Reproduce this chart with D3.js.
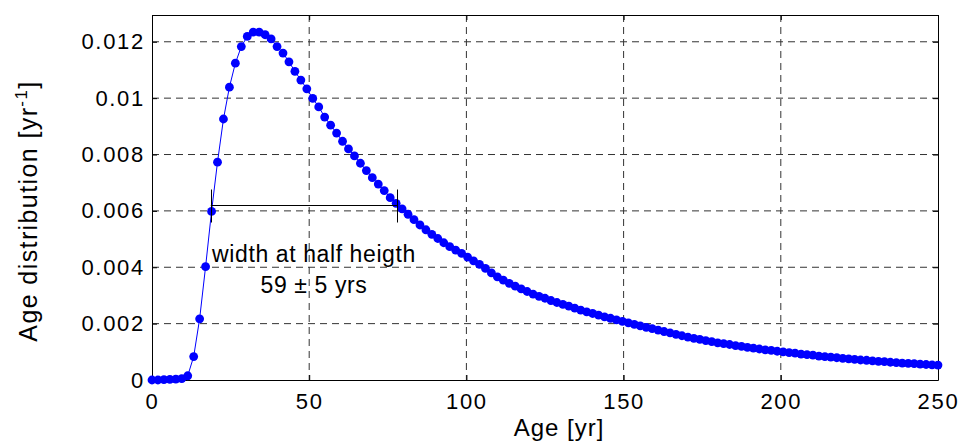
<!DOCTYPE html>
<html>
<head>
<meta charset="utf-8">
<script src="https://cdn.jsdelivr.net/npm/d3@7"></script>
<style>
body { margin: 0; background: #fff; }
text { font-family: "Liberation Sans", Arial, sans-serif; fill: #000; }
</style>
</head>
<body>
<div id="plot"></div>
<script>
// Age distribution values, one dot every 250/132 years from 0 to 250
const ageMax = 250;
const density = [
  0, 0, 0.00001, 0.00002, 0.00003, 0.00005, 0.00015, 0.00083, 0.00217, 0.00402,
  0.00598, 0.00773, 0.00926, 0.01039, 0.01124, 0.01183, 0.01219, 0.01234, 0.01234, 0.01225,
  0.01210, 0.01183, 0.01160, 0.01129, 0.01095, 0.01064, 0.01033, 0.00999, 0.00969, 0.00933,
  0.00904, 0.00876, 0.00847, 0.00820, 0.00795, 0.00769, 0.00743, 0.00718, 0.00695, 0.00672,
  0.00647, 0.00627, 0.00607, 0.00588, 0.00569, 0.00550, 0.00533, 0.00517, 0.00502, 0.00487,
  0.00473, 0.00461, 0.00449, 0.00436, 0.00423, 0.00410, 0.00396, 0.00380, 0.00366, 0.00354,
  0.00343, 0.00333, 0.00323, 0.00314, 0.00305, 0.00297, 0.00290, 0.00282, 0.00275, 0.00268,
  0.00262, 0.00255, 0.00248, 0.00242, 0.00236, 0.00230, 0.00224, 0.00219, 0.00213, 0.00208,
  0.00203, 0.00197, 0.00192, 0.00187, 0.00182, 0.00177, 0.00172, 0.00167, 0.00162, 0.00157,
  0.00152, 0.00148, 0.00144, 0.00140, 0.00136, 0.00132, 0.00129, 0.00126, 0.00122, 0.00119,
  0.00116, 0.00113, 0.00110, 0.00107, 0.00105, 0.00102, 0.00100, 0.00097, 0.00095, 0.00092,
  0.00090, 0.00088, 0.00085, 0.00083, 0.00081, 0.00079, 0.00077, 0.00075, 0.00073, 0.00071,
  0.00070, 0.00068, 0.00066, 0.00065, 0.00063, 0.00062, 0.00060, 0.00059, 0.00058, 0.00056,
  0.00055, 0.00054, 0.00053
];
const ages = density.map((d, i) => i * ageMax / (density.length - 1));

// Ticks
const xTicks = [0, 50, 100, 150, 200, 250];
const yTicks = [0, 0.002, 0.004, 0.006, 0.008, 0.01, 0.012];
const yTickLabels = ["0", "0.002", "0.004", "0.006", "0.008", "0.01", "0.012"];

// Width at half height marker
const halfAges = [18.7, 77.9];
const halfValue = 0.0062;
const noteLines = ["width at half heigth", "59 \u00b1 5 yrs"];

// The SVG dimensions
const W = 962, H = 445;
const margin = {top: 15, right: 24, bottom: 65, left: 152},
  width = W - margin.left - margin.right,
  height = H - margin.top - margin.bottom;

const x = d3.scaleLinear().domain([0, ageMax]).range([0, width]);
const y = d3.scaleLinear().domain([0, 0.01295]).range([height, 0]);

const svg = d3.select("#plot").append("svg")
  .attr("width", W)
  .attr("height", H);

const g = svg.append("g")
  .attr("transform", `translate(${margin.left},${margin.top})`);

// Grid lines (dashed)
g.append("g").selectAll("line")
  .data(xTicks.filter(t => t > 0 && t < ageMax))
  .join("line")
  .attr("x1", d => x(d)).attr("x2", d => x(d))
  .attr("y1", 0).attr("y2", height)
  .attr("stroke", "#333").attr("stroke-dasharray", "7,5");

g.append("g").selectAll("line")
  .data(yTicks.filter(t => t > 0))
  .join("line")
  .attr("x1", 0).attr("x2", width)
  .attr("y1", d => y(d)).attr("y2", d => y(d))
  .attr("stroke", "#333").attr("stroke-dasharray", "7,5");

// Axes, ticks pointing inwards
const xAxis = g.append("g")
  .attr("transform", `translate(0,${height})`)
  .call(d3.axisBottom(x).tickValues(xTicks).tickFormat(d3.format("d"))
    .tickSizeInner(-5).tickSizeOuter(0).tickPadding(13));

const yAxis = g.append("g")
  .call(d3.axisLeft(y).tickValues(yTicks).tickFormat((d, i) => yTickLabels[i])
    .tickSizeInner(-5).tickSizeOuter(0).tickPadding(7));

g.append("g")
  .call(d3.axisTop(x).tickValues(xTicks).tickFormat("").tickSizeInner(-5).tickSizeOuter(0));

g.append("g")
  .attr("transform", `translate(${width},0)`)
  .call(d3.axisRight(y).tickValues(yTicks).tickFormat("").tickSizeInner(-5).tickSizeOuter(0));

g.selectAll(".domain, .tick line").attr("stroke", "#000");
[xAxis, yAxis].forEach(a => a.selectAll("text")
  .style("font-size", "22px")
  .style("letter-spacing", "1.7px")
  .style("font-family", "'Liberation Sans', Arial, sans-serif")
  .attr("fill", "#000"));

// The curve
const line = d3.line()
  .x((d, i) => x(ages[i]))
  .y(d => y(d));

g.append("path")
  .datum(density)
  .attr("fill", "none")
  .attr("stroke", "#0000ff")
  .attr("stroke-width", 1)
  .attr("d", line);

g.append("g").selectAll("circle")
  .data(density)
  .join("circle")
  .attr("cx", (d, i) => x(ages[i]))
  .attr("cy", d => y(d))
  .attr("r", 4.4)
  .attr("fill", "#0000ff");

// Width at half height bar
const hy = Math.round(y(halfValue)) + 0.5;
g.append("line")
  .attr("x1", x(halfAges[0])).attr("x2", x(halfAges[1]))
  .attr("y1", hy).attr("y2", hy)
  .attr("stroke", "#000");

g.append("g").selectAll("line")
  .data(halfAges)
  .join("line")
  .attr("x1", d => Math.round(x(d)) + 0.5).attr("x2", d => Math.round(x(d)) + 0.5)
  .attr("y1", hy - 16).attr("y2", hy + 17)
  .attr("stroke", "#000");

const note = g.append("text")
  .attr("text-anchor", "middle")
  .style("font-size", "23px")
  .style("letter-spacing", "0.6px");
noteLines.forEach((t, i) => {
  note.append("tspan")
    .attr("x", 162)
    .attr("y", 247 + i * 31)
    .text(t);
});

// Axis labels
svg.append("text")
  .attr("x", 559).attr("y", 436)
  .attr("text-anchor", "middle")
  .style("font-size", "24px")
  .style("letter-spacing", "1px")
  .text("Age [yr]");

const yl = svg.append("text")
  .attr("transform", "translate(37,211) rotate(-90)")
  .attr("text-anchor", "middle")
  .style("font-size", "25px")
  .style("letter-spacing", "1.4px");
yl.append("tspan").text("Age distribution [yr");
yl.append("tspan").attr("dy", -10).style("font-size", "17px").text("-1");
yl.append("tspan").attr("dy", 10).text("]");
</script>
</body>
</html>
